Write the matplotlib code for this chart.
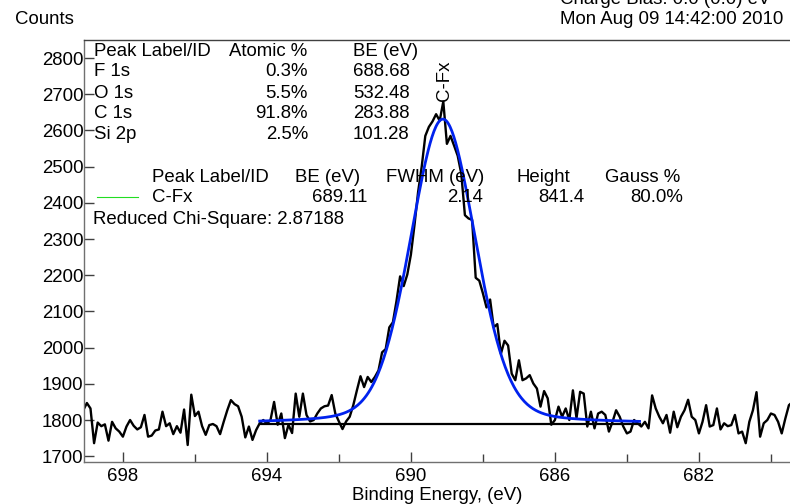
import numpy as np
import matplotlib.pyplot as plt
from matplotlib.lines import Line2D

plt.rcParams['font.family'] = ['Liberation Sans', 'DejaVu Sans']

# raw spectrum, 0.1 eV steps starting at 699.1 eV
be_start = 699.1
be_step = -0.1
counts = [
    1827, 1847, 1832, 1736, 1793, 1783, 1788, 1743, 1795, 1777,
    1768, 1754, 1782, 1800, 1784, 1774, 1780, 1814, 1754, 1757,
    1771, 1774, 1823, 1783, 1791, 1761, 1783, 1765, 1829, 1731,
    1870, 1811, 1823, 1783, 1759, 1786, 1789, 1783, 1761, 1795,
    1827, 1855, 1844, 1838, 1809, 1752, 1782, 1745, 1772, 1791,
    1800, 1790, 1800, 1850, 1787, 1818, 1750, 1787, 1764, 1873,
    1809, 1873, 1814, 1796, 1800, 1818, 1832, 1838, 1840, 1869,
    1818, 1796, 1775, 1796, 1809, 1841, 1882, 1921, 1891, 1919,
    1905, 1919, 1937, 1987, 1996, 2056, 2070, 2129, 2197, 2170,
    2202, 2257, 2339, 2430, 2500, 2585, 2610, 2625, 2645, 2627,
    2680, 2563, 2585, 2558, 2530, 2480, 2366, 2357, 2353, 2193,
    2185, 2150, 2111, 2133, 2056, 2065, 1983, 2019, 2006, 1928,
    1910, 1965, 1910, 1915, 1924, 1901, 1887, 1837, 1880, 1860,
    1787, 1800, 1837, 1809, 1832, 1800, 1882, 1805, 1878, 1873,
    1782, 1823, 1777, 1818, 1823, 1814, 1768, 1795, 1827, 1809,
    1782, 1763, 1768, 1800, 1791, 1782, 1795, 1777, 1868, 1832,
    1809, 1791, 1814, 1765, 1823, 1780, 1809, 1827, 1856, 1809,
    1800, 1763, 1795, 1841, 1782, 1786, 1832, 1774, 1791, 1783,
    1786, 1814, 1763, 1768, 1736, 1795, 1827, 1877, 1754, 1791,
    1800, 1818, 1814, 1795, 1763, 1804, 1841, 1850,
]
energy = np.round(be_start + be_step * np.arange(len(counts)), 2)

# fitted component
peak_label = 'C-Fx'
peak_be = 689.11
peak_fwhm = 2.14
peak_height = 841.4
peak_gauss = 0.80
background = 1790
fit_range = (694.2, 683.65)
chi_square = 2.87188

# survey quantification table
elements = ['F 1s', 'O 1s', 'C 1s', 'Si 2p']
atomic_pct = ['0.3%', '5.5%', '91.8%', '2.5%']
elem_be = ['688.68', '532.48', '283.88', '101.28']

W, H = 790, 504
fs = 13.4
fig = plt.figure(figsize=(W / 100, H / 100), dpi=100)
ax = fig.add_axes([84 / W, 42 / H, 706 / W, 422 / H])


def ftext(x, y, s, **kw):
    # place text by pixel position measured from the top left corner
    kw.setdefault('fontsize', fs)
    kw.setdefault('va', 'center')
    fig.text(x / W, 1 - y / H, s, **kw)


ax.plot(energy, counts, color='black', lw=1.7)

xf = np.linspace(fit_range[0], fit_range[1], 400)
d = xf - peak_be
gauss = np.exp(-4 * np.log(2) * d ** 2 / peak_fwhm ** 2)
lorentz = 1 / (1 + 4 * d ** 2 / peak_fwhm ** 2)
fit = background + peak_height * (peak_gauss * gauss + (1 - peak_gauss) * lorentz)
ax.plot(list(fit_range), [background, background], color='black', lw=1.6)
ax.plot(xf, fit, color='#0022ee', lw=2.0)

ax.text(peak_be - 0.05, max(counts) + 2, peak_label, rotation=90, ha='center',
        va='bottom', fontsize=fs)

ax.set_xlim(699.08, 679.47)
ax.set_ylim(1684, 2850)
ax.set_yticks(np.arange(1700, 2900, 100))
ax.set_xticks([698, 694, 690, 686, 682])
ax.set_xticks([696, 692, 688, 684, 680], minor=True)
ax.tick_params(axis='y', direction='in', length=7.5, width=1, color='#404040',
               labelsize=fs, pad=0.3)
ax.tick_params(axis='x', which='major', direction='in', length=7.5, width=1,
               color='#404040', labelsize=fs, pad=4)
ax.tick_params(axis='x', which='minor', direction='in', length=6, width=1,
               color='#404040')
ax.spines['right'].set_visible(False)
for s in ['left', 'bottom', 'top']:
    ax.spines[s].set_color('#707070')
    ax.spines[s].set_linewidth(1)
ax.spines['top'].set_color('#404040')
ax.set_xlabel('Binding Energy, (eV)', fontsize=fs, labelpad=2)

ftext(15, 19, 'Counts')
ftext(560, -1, 'Charge Bias: 0.0 (0.0) eV')
ftext(560, 20, 'Mon Aug 09 14:42:00 2010')

# survey table
ftext(94, 51, 'Peak Label/ID')
ftext(229, 51, 'Atomic %')
ftext(353, 51, 'BE (eV)')
for k in range(len(elements)):
    y = 72 + 21 * k
    ftext(94, y, elements[k])
    ftext(308, y, atomic_pct[k], ha='right')
    ftext(353, y, elem_be[k])

# fit table
ftext(152, 177, 'Peak Label/ID')
ftext(295, 177, 'BE (eV)')
ftext(386, 177, 'FWHM (eV)')
ftext(517, 177, 'Height')
ftext(605, 177, 'Gauss %')
fig.add_artist(Line2D([97 / W, 138 / W], [1 - 197 / H, 1 - 197 / H],
                      transform=fig.transFigure, color='#22dd22', lw=0.8))
ftext(152, 198, peak_label)
ftext(367, 198, f'{peak_be:.2f}', ha='right')
ftext(483, 198, f'{peak_fwhm:.2f}', ha='right')
ftext(584, 198, f'{peak_height:.1f}', ha='right')
ftext(683, 198, f'{peak_gauss * 100:.1f}%', ha='right')
ftext(93, 219, f'Reduced Chi-Square: {chi_square}')

fig.savefig('out.png', dpi=100)
